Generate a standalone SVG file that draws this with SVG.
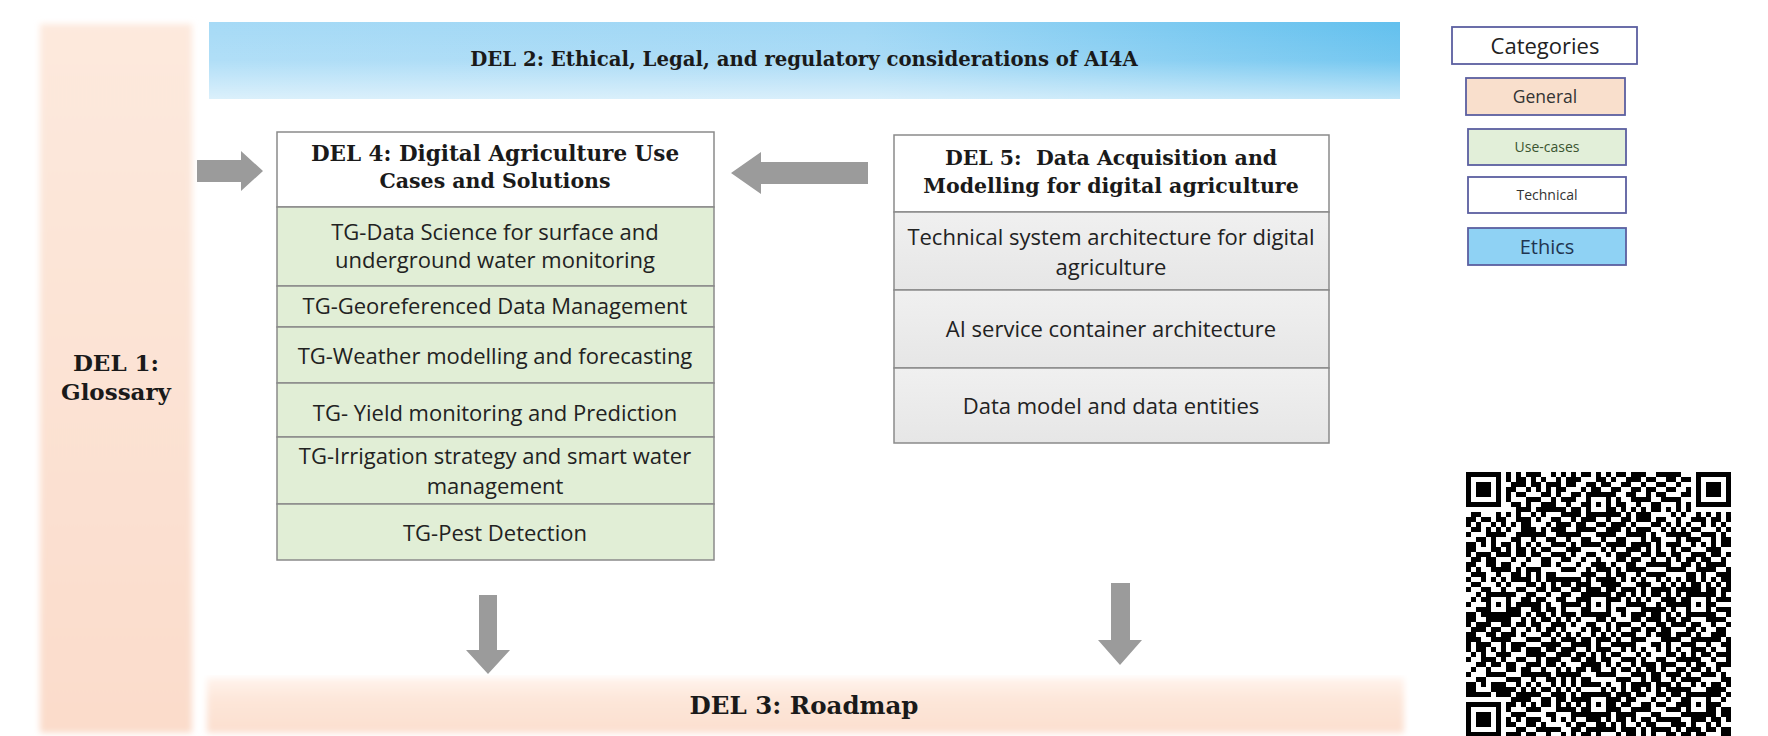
<svg xmlns="http://www.w3.org/2000/svg" width="1768" height="736" viewBox="0 0 1768 736">
<style>
.hdr{font-family:"DejaVu Serif","Liberation Serif",serif;font-weight:bold;fill:#1a1a1a;text-anchor:middle}
.body{font-family:"Open Sans","Noto Sans",sans-serif;font-size:22px;fill:#222;text-anchor:middle}
.box{stroke:#8a8a8a;stroke-width:1.5}
.leg{stroke:#5b5fa0;stroke-width:1.8}
.lt{font-family:"Open Sans","Noto Sans",sans-serif;text-anchor:middle}
.arrow{fill:#9b9b9b}
</style>
<defs>
<linearGradient id="blueH" x1="0" y1="0" x2="1" y2="0">
<stop offset="0" stop-color="#a6daf6"/><stop offset="0.55" stop-color="#a0d7f5"/><stop offset="1" stop-color="#62c0ee"/>
</linearGradient>
<linearGradient id="fadeV" x1="0" y1="0" x2="0" y2="1">
<stop offset="0" stop-color="#fff" stop-opacity="0"/><stop offset="0.5" stop-color="#fff" stop-opacity="0.12"/><stop offset="1" stop-color="#fff" stop-opacity="0.6"/>
</linearGradient>
<linearGradient id="orangeV" x1="0" y1="0" x2="0" y2="1">
<stop offset="0" stop-color="#fde9dd"/><stop offset="1" stop-color="#fbdccb"/>
</linearGradient>
<linearGradient id="orangeB" x1="0" y1="0" x2="0" y2="1">
<stop offset="0" stop-color="#fff3ec"/><stop offset="0.4" stop-color="#fde6d9"/><stop offset="1" stop-color="#fcdfcf"/>
</linearGradient>
<linearGradient id="greyV" x1="0" y1="0" x2="0" y2="1">
<stop offset="0" stop-color="#f0f0f0"/><stop offset="1" stop-color="#e6e6e6"/>
</linearGradient>
<filter id="soft" x="-10%" y="-5%" width="120%" height="110%"><feGaussianBlur stdDeviation="3"/></filter>
<pattern id="qa" patternUnits="userSpaceOnUse" x="1466" y="472" width="35" height="35">
<path fill="#000" d="M0 0h5v5H0z M15 0h5v5h-5z M25 0h5v5h-5z M5 5h5v5H5z M30 5h5v5h-5z M0 10h5v5H0z M15 10h10v5H15z M10 15h5v5h-5z M25 15h5v5h-5z M5 20h5v5H5z M20 20h5v5h-5z M0 25h5v5H0z M25 25h10v5H25z M10 30h10v5H10z"/>
</pattern>
<pattern id="qb" patternUnits="userSpaceOnUse" x="1466" y="472" width="55" height="55">
<path fill="#000" d="M5 0h10v5H5z M30 0h5v5h-5z M40 0h5v5h-5z M0 5h5v5H0z M20 5h5v5h-5z M35 5h5v5h-5z M50 5h5v5h-5z M10 10h5v5h-5z M25 10h5v5h-5z M45 10h5v5h-5z M5 15h5v5H5z M15 15h5v5h-5z M35 15h10v5H35z M0 20h5v5H0z M25 20h5v5h-5z M50 20h5v5h-5z M10 25h10v5H10z M30 25h5v5h-5z M40 25h5v5h-5z M5 30h5v5H5z M20 30h5v5h-5z M45 30h5v5h-5z M0 35h5v5H0z M20 35h10v5H20z M35 35h5v5h-5z M10 40h5v5h-5z M40 40h5v5h-5z M50 40h5v5h-5z M5 45h5v5H5z M15 45h5v5h-5z M30 45h5v5h-5z M0 50h5v5H0z M25 50h5v5h-5z M35 50h5v5h-5z M45 50h5v5h-5z"/>
</pattern>
<g id="finder"><rect width="35" height="35" fill="#000"/><rect x="5" y="5" width="25" height="25" fill="#fff"/><rect x="10" y="10" width="15" height="15" fill="#000"/></g>
<g id="align"><rect width="25" height="25" fill="#000"/><rect x="5" y="5" width="15" height="15" fill="#fff"/><rect x="10" y="10" width="5" height="5" fill="#000"/></g>
</defs>
<rect width="1768" height="736" fill="#fff"/>

<g id="del1">
<rect x="40" y="24" width="152" height="709" fill="url(#orangeV)" filter="url(#soft)"/>
<text class="hdr" x="116" y="371" style="font-size:23px">DEL 1:</text>
<text class="hdr" x="116" y="400" style="font-size:23px">Glossary</text>
</g>

<g id="del2">
<rect x="209" y="22" width="1191" height="77" fill="url(#blueH)"/>
<rect x="209" y="22" width="1191" height="77" fill="url(#fadeV)"/>
<text class="hdr" x="804" y="66" style="font-size:19.7px">DEL 2: Ethical, Legal, and regulatory considerations of AI4A</text>
</g>

<g id="del3">
<rect x="207" y="678" width="1197" height="55" fill="url(#orangeB)" filter="url(#soft)"/>
<text class="hdr" x="804" y="714" style="font-size:24.5px">DEL 3: Roadmap</text>
</g>

<g id="del4">
<rect class="box" x="277" y="132" width="437" height="75" fill="#fff"/>
<text class="hdr" x="495" y="161" style="font-size:21.5px">DEL 4: Digital Agriculture Use</text>
<text class="hdr" x="495" y="188" style="font-size:20.5px">Cases and Solutions</text>
<rect class="box" x="277" y="207" width="437" height="79" fill="#e1eed6"/>
<text class="body" x="495" y="240">TG-Data Science for surface and</text>
<text class="body" x="495" y="268">underground water monitoring</text>
<rect class="box" x="277" y="286" width="437" height="41" fill="#e1eed6"/>
<text class="body" x="495" y="314">TG-Georeferenced Data Management</text>
<rect class="box" x="277" y="327" width="437" height="56" fill="#e1eed6"/>
<text class="body" x="495" y="364">TG-Weather modelling and forecasting</text>
<rect class="box" x="277" y="383" width="437" height="54" fill="#e1eed6"/>
<text class="body" x="495" y="421">TG- Yield monitoring and Prediction</text>
<rect class="box" x="277" y="437" width="437" height="67" fill="#e1eed6"/>
<text class="body" x="495" y="464">TG-Irrigation strategy and smart water</text>
<text class="body" x="495" y="494">management</text>
<rect class="box" x="277" y="504" width="437" height="56" fill="#e1eed6"/>
<text class="body" x="495" y="541">TG-Pest Detection</text>
</g>

<g id="del5">
<rect class="box" x="894" y="135" width="435" height="77" fill="#fff"/>
<text class="hdr" x="1111" y="165" style="font-size:20.5px" xml:space="preserve">DEL 5:  Data Acquisition and</text>
<text class="hdr" x="1111" y="193" style="font-size:20.5px">Modelling for digital agriculture</text>
<rect class="box" x="894" y="212" width="435" height="78" fill="url(#greyV)"/>
<text class="body" x="1111" y="245">Technical system architecture for digital</text>
<text class="body" x="1111" y="275">agriculture</text>
<rect class="box" x="894" y="290" width="435" height="78" fill="url(#greyV)"/>
<text class="body" x="1111" y="337">AI service container architecture</text>
<rect class="box" x="894" y="368" width="435" height="75" fill="url(#greyV)"/>
<text class="body" x="1111" y="414">Data model and data entities</text>
</g>

<g id="connectors">
<polygon class="arrow" points="197,160 241,160 241,151 263,171 241,191 241,182 197,182"/>
<polygon class="arrow" points="868,162 761,162 761,152 731,173 761,194 761,184 868,184"/>
<polygon class="arrow" points="479,595 497,595 497,650 510,650 488,674 466,650 479,650"/>
<polygon class="arrow" points="1111,583 1130,583 1130,640 1142,640 1120,665 1098,640 1111,640"/>
</g>

<g id="legend">
<rect class="leg" x="1452" y="27" width="185" height="37" fill="#fff"/>
<text class="lt" x="1545" y="54" font-size="22" fill="#222">Categories</text>
<g id="leg-general">
<rect class="leg" x="1466" y="78" width="159" height="37" fill="#f9dfcc"/>
<text class="lt" x="1545" y="103" font-size="17.5" fill="#333">General</text>
</g>
<g id="leg-usecases">
<rect class="leg" x="1468" y="129" width="158" height="36" fill="#e2efd9"/>
<text class="lt" x="1547" y="152" font-size="14" fill="#3a5530">Use-cases</text>
</g>
<g id="leg-technical">
<rect class="leg" x="1468" y="177" width="158" height="36" fill="#fff"/>
<text class="lt" x="1547" y="200" font-size="14" fill="#333">Technical</text>
</g>
<g id="leg-ethics">
<rect class="leg" x="1468" y="228" width="158" height="37" fill="#8fd2f4"/>
<text class="lt" x="1547" y="254" font-size="20" fill="#1f3550">Ethics</text>
</g>
</g>

<g id="qr">
<rect x="1461" y="467" width="275" height="269" fill="#fff"/>
<rect x="1466" y="472" width="265" height="265" fill="url(#qa)"/>
<rect x="1466" y="472" width="265" height="265" fill="url(#qb)"/>
<rect x="1466" y="472" width="40" height="40" fill="#fff"/>
<rect x="1691" y="472" width="40" height="40" fill="#fff"/>
<rect x="1466" y="697" width="40" height="40" fill="#fff"/>
<use href="#finder" x="1466" y="472"/>
<use href="#finder" x="1696" y="472"/>
<use href="#finder" x="1466" y="702"/>
<use href="#align" x="1586" y="492"/>
<use href="#align" x="1486" y="592"/>
<use href="#align" x="1586" y="592"/>
<use href="#align" x="1686" y="592"/>
<use href="#align" x="1586" y="692"/>
<use href="#align" x="1686" y="692"/>
</g>
</svg>
